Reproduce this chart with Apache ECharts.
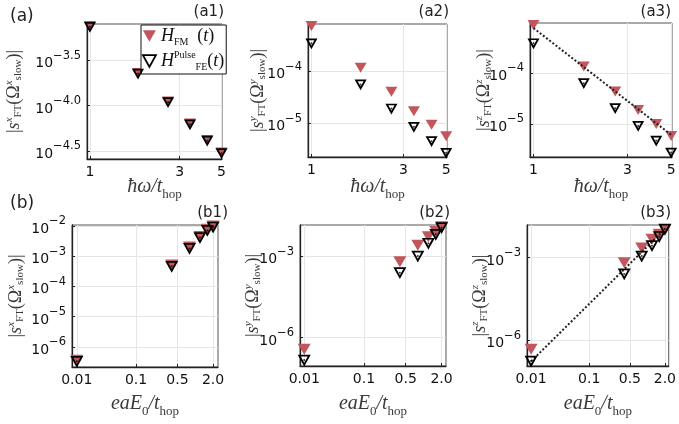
<!DOCTYPE html>
<html><head><meta charset="utf-8">
<script src="https://cdn.jsdelivr.net/npm/echarts@6/dist/echarts.min.js"></script>
<style>html,body{margin:0;padding:0;background:#fff}#c{width:679px;height:424px}</style>
</head><body><div id="c"></div>
<script>
// ---- data ----
const omega = [1, 1.8, 2.6, 3.4, 4.2, 5.0];
const E0 = [0.01, 0.4, 0.8, 1.2, 1.6, 2.0];

const a1FM = [7.55e-4, 2.29e-4, 1.11e-4, 6.35e-5, 4.16e-5, 3.03e-5];
const a1FE = [7.4e-4, 2.25e-4, 1.09e-4, 6.2e-5, 4.1e-5, 2.98e-5];
const a2FM = [7.3e-4, 1.16e-4, 4.0e-5, 1.70e-5, 9.3e-6, 5.6e-6];
const a2FE = [3.41e-4, 5.55e-5, 1.91e-5, 8.5e-6, 4.5e-6, 2.69e-6];
const a3FM = [8.7e-4, 1.33e-4, 4.3e-5, 1.88e-5, 9.9e-6, 5.8e-6];
const a3FE = [3.82e-4, 6.3e-5, 2.03e-5, 9.1e-6, 4.7e-6, 2.74e-6];
const a3FitX = [1, 5];
const a3FitY = [7.6e-4, 6.1e-6];

const b1FM = [3.6e-7, 5.1e-4, 2.0e-3, 4.5e-3, 7.8e-3, 1.0e-2];
const b1FE = [3.3e-7, 4.6e-4, 1.8e-3, 4.1e-3, 7.1e-3, 9.2e-3];
const b2FM = [3.8e-7, 6.2e-4, 2.5e-3, 5.1e-3, 7.9e-3, 1.2e-2];
const b2FE = [1.5e-7, 2.45e-4, 1.0e-3, 2.95e-3, 6.3e-3, 1.1e-2];
const b3FM = [4.7e-7, 6.6e-4, 2.24e-3, 4.7e-3, 7.2e-3, 1.02e-2];
const b3FE = [1.74e-7, 2.57e-4, 1.15e-3, 2.75e-3, 5.9e-3, 1.1e-2];
const b3FitX = [0.01, 2.0];
const b3FitY = [1.7e-7, 1.1e-2];

// tick values / labels
const omegaTicks = [1, 3, 5];
const omegaTickLabels = ['1', '3', '5'];
const E0Ticks = [0.01, 0.1, 0.5, 2.0];
const E0TickLabels = ['0.01', '0.1', '0.5', '2.0'];
const a1YExp = [-3.5, -4.0, -4.5];
const a1YLabels = ['\u22123.5', '\u22124.0', '\u22124.5'];
const a23YExp = [-4, -5];
const a23YLabels = ['\u22124', '\u22125'];
const b1YExp = [-2, -3, -4, -5, -6];
const b1YLabels = ['\u22122', '\u22123', '\u22124', '\u22125', '\u22126'];
const b23YExp = [-3, -6];
const b23YLabels = ['\u22123', '\u22126'];

// ---- styling ----
const RED = '#c1575c';
const SANS = 'DejaVu Sans';
const SERIF = 'Liberation Serif';
const NAMEC = '#3a3a3a';

const richY = {
  n: {fontFamily: SERIF, fontSize: 18, color: NAMEC, lineHeight: 20, verticalAlign: 'middle'},
  i: {fontFamily: SERIF, fontSize: 18, fontStyle: 'italic', color: NAMEC, lineHeight: 20, verticalAlign: 'middle'},
  sup: {fontFamily: SERIF, fontSize: 11, fontStyle: 'italic', color: NAMEC, lineHeight: 20, verticalAlign: 'top'},
  sub: {fontFamily: SERIF, fontSize: 11, color: NAMEC, lineHeight: 20, verticalAlign: 'bottom'}
};
const richX = {
  n: {fontFamily: SERIF, fontSize: 20, color: NAMEC, lineHeight: 22, verticalAlign: 'middle'},
  i: {fontFamily: SERIF, fontSize: 20, fontStyle: 'italic', color: NAMEC, lineHeight: 22, verticalAlign: 'middle'},
  sub: {fontFamily: SERIF, fontSize: 13, color: NAMEC, lineHeight: 22, verticalAlign: 'bottom', padding: [0, 0, -3, 0]}
};
function yName(c) {
  return '{n||}{i|s}{sup|' + c + '}{sub|FT}{n|(}{n|\u03A9}{sup|' + c + '}{sub|slow}{n|)|}';
}
const xNameOmega = '{i|\u0127\u03C9/t}{sub|hop}';
const xNameE = '{i|eaE}{sub|0}{i|/t}{sub|hop}';

function pair(xs, ys) { return xs.map((x, k) => [x, ys[k]]); }

const panels = [
  {grid: {left: 87, top: 24, width: 135, height: 135}, xs: omega, xmin: 0.965, xmax: 5.03, xt: omegaTicks, xl: omegaTickLabels,
   ymin: -4.59, ymax: -3.1, ye: a1YExp, yl: a1YLabels, fm: a1FM, fe: a1FE, c: 'x', yGap: 63, xName: xNameOmega, xGap: 17, big: false},
  {grid: {left: 308, top: 24, width: 139, height: 133}, xs: omega, xmin: 0.96, xmax: 5.05, xt: omegaTicks, xl: omegaTickLabels,
   ymin: -5.65, ymax: -3.096, ye: a23YExp, yl: a23YLabels, fm: a2FM, fe: a2FE, c: 'y', yGap: 40, xName: xNameOmega, xGap: 19, big: false},
  {grid: {left: 530, top: 23, width: 142, height: 134}, xs: omega, xmin: 0.96, xmax: 5.05, xt: omegaTicks, xl: omegaTickLabels,
   ymin: -5.65, ymax: -3.02, ye: a23YExp, yl: a23YLabels, fm: a3FM, fe: a3FE, c: 'z', yGap: 36, xName: xNameOmega, xGap: 19, big: false,
   fit: pair(a3FitX, a3FitY)},
  {grid: {left: 72, top: 225, width: 146, height: 142}, xs: E0, xmin: 0.0083, xmax: 2.42, xt: E0Ticks, xl: E0TickLabels,
   ymin: -6.67, ymax: -1.97, ye: b1YExp, yl: b1YLabels, fm: b1FM, fe: b1FE, c: 'x', yGap: 46, xName: xNameE, xGap: 26, big: true},
  {grid: {left: 300, top: 225, width: 146, height: 141}, xs: E0, xmin: 0.0085, xmax: 2.37, xt: E0Ticks, xl: E0TickLabels,
   ymin: -7.04, ymax: -1.86, ye: b23YExp, yl: b23YLabels, fm: b2FM, fe: b2FE, c: 'y', yGap: 37, xName: xNameE, xGap: 27, big: true},
  {grid: {left: 527, top: 225, width: 145, height: 141}, xs: E0, xmin: 0.0085, xmax: 2.33, xt: E0Ticks, xl: E0TickLabels,
   ymin: -6.94, ymax: -1.81, ye: b23YExp, yl: b23YLabels, fm: b3FM, fe: b3FE, c: 'z', yGap: 37, xName: xNameE, xGap: 27, big: true,
   fit: pair(b3FitX, b3FitY)}
];

const grids = [], xAxes = [], yAxes = [], series = [];
panels.forEach((p, k) => {
  grids.push(Object.assign({show: true, borderColor: '#555', borderWidth: 1, backgroundColor: 'transparent'}, p.grid));
  xAxes.push({
    type: 'log', logBase: 10, gridIndex: k, min: p.xmin, max: p.xmax,
    axisLine: {show: true, onZero: false, lineStyle: {color: '#222', width: 1.3}},
    axisTick: {show: true, inside: true, length: 3, customValues: p.xt, lineStyle: {color: '#222'}},
    axisLabel: {customValues: p.xt, margin: 6, fontFamily: SANS, fontSize: 14, color: '#111',
      formatter: v => { const j = p.xt.findIndex(t => Math.abs(Math.log10(t) - Math.log10(v)) < 1e-6); return j >= 0 ? p.xl[j] : ''; }},
    splitLine: {show: true, lineStyle: {color: '#e6e6e6', width: 1}},
    minorTick: {show: false}, minorSplitLine: {show: false},
    name: p.xName, nameLocation: 'middle', nameGap: p.xGap, nameMoveOverlap: false,
    nameTextStyle: {rich: richX, verticalAlign: 'top'}
  });
  const yvals = p.ye.map(e => Math.pow(10, e));
  yAxes.push({
    type: 'log', logBase: 10, gridIndex: k, min: Math.pow(10, p.ymin), max: Math.pow(10, p.ymax),
    axisLine: {show: true, onZero: false, lineStyle: {color: '#222', width: 1.3}},
    axisTick: {show: true, inside: true, length: 3, customValues: yvals, lineStyle: {color: '#222'}},
    axisLabel: {customValues: yvals, margin: 6, color: '#111',
      formatter: v => { const j = p.ye.findIndex(e => Math.abs(e - Math.log10(v)) < 1e-6); return j >= 0 ? '{b|10}{e|' + p.yl[j] + '}' : ''; },
      rich: {
        b: {fontFamily: SANS, fontSize: 14, color: '#111', lineHeight: 21, verticalAlign: 'bottom'},
        e: {fontFamily: SANS, fontSize: 11.5, color: '#111', lineHeight: 21, verticalAlign: 'top'}
      }},
    splitLine: {show: true, lineStyle: {color: '#e6e6e6', width: 1}},
    minorTick: {show: false}, minorSplitLine: {show: false},
    name: yName(p.c), nameLocation: 'middle', nameGap: p.yGap, nameRotate: 90, nameMoveOverlap: false,
    nameTextStyle: {rich: richY}
  });
  const sz = p.big ? [13, 11] : [12, 10];
  const szb = p.big ? [10, 9] : [9, 8];
  series.push({
    name: 'FM', type: 'scatter', xAxisIndex: k, yAxisIndex: k, clip: false, z: 3,
    symbol: 'triangle', symbolRotate: 180, symbolSize: sz,
    itemStyle: {color: RED, opacity: 1},
    data: pair(p.xs, p.fm)
  });
  if (p.fit) {
    series.push({
      type: 'line', xAxisIndex: k, yAxisIndex: k, showSymbol: false, symbol: 'none', z: 4,
      lineStyle: {color: '#222', width: 2, type: [2, 2]},
      data: p.fit
    });
  }
  series.push({
    name: 'FE', type: 'scatter', xAxisIndex: k, yAxisIndex: k, clip: false, z: 5,
    symbol: 'triangle', symbolRotate: 180, symbolSize: szb,
    itemStyle: {color: 'rgba(0,0,0,0)', borderColor: '#000', borderWidth: 1.8, opacity: 1},
    data: pair(p.xs, p.fe)
  });
  series.push({
    type: 'scatter', xAxisIndex: k, yAxisIndex: k, clip: false, z: 6, silent: true,
    symbol: 'circle', symbolSize: 2, itemStyle: {color: '#000'},
    data: pair(p.xs, p.fe)
  });
});

const panelLabels = [
  {t: '(a)', x: 10, y: 8, s: 17, a: 'left'},
  {t: '(b)', x: 10, y: 195, s: 17, a: 'left'},
  {t: '(a1)', x: 224, y: 5, s: 15, a: 'right'},
  {t: '(a2)', x: 449, y: 5, s: 15, a: 'right'},
  {t: '(a3)', x: 671, y: 5, s: 15, a: 'right'},
  {t: '(b1)', x: 228, y: 206, s: 15, a: 'right'},
  {t: '(b2)', x: 450, y: 206, s: 15, a: 'right'},
  {t: '(b3)', x: 671, y: 206, s: 15, a: 'right'}
];

const legRich = {
  i: {fontFamily: SERIF, fontSize: 18, fontStyle: 'italic', color: '#111', lineHeight: 22, verticalAlign: 'middle'},
  n: {fontFamily: SERIF, fontSize: 18, color: '#111', lineHeight: 22, verticalAlign: 'middle'},
  sup: {fontFamily: SERIF, fontSize: 10, color: '#111', lineHeight: 22, verticalAlign: 'top'},
  sub: {fontFamily: SERIF, fontSize: 10, color: '#111', lineHeight: 22, verticalAlign: 'bottom'}
};

const option = {
  animation: false,
  backgroundColor: '#fff',
  grid: grids,
  xAxis: xAxes,
  yAxis: yAxes,
  series: series,
  legend: {
    left: 141, top: 25, orient: 'vertical', padding: [2, 2, 2, 1], itemGap: 3,
    borderColor: '#111', borderWidth: 1, backgroundColor: '#fff',
    itemWidth: 13, itemHeight: 12,
    data: [
      {name: 'FM', icon: 'path://M0,0L10,0L5,9Z', itemStyle: {color: RED}},
      {name: 'FE', icon: 'path://M0,0L10,0L5,9Z', itemStyle: {color: 'rgba(0,0,0,0)', borderColor: '#000', borderWidth: 1.8}}
    ],
    formatter: n => n === 'FM' ? '{i|H}{sub|FM}{n|  (}{i|t}{n|)}' : '{i|H}{sup|Pulse}{sub|FE}{n|(}{i|t}{n|)}',
    textStyle: {rich: legRich}
  },
  graphic: panelLabels.map(l => ({
    type: 'text', left: l.a === 'left' ? l.x : undefined, right: l.a === 'right' ? 679 - l.x : undefined, top: l.y,
    style: {text: l.t, font: l.s + 'px ' + SANS, fill: '#222'}
  }))
};

const chart = echarts.init(document.getElementById('c'), null, {renderer: 'canvas'});
chart.setOption(option);
</script>
</body></html>
